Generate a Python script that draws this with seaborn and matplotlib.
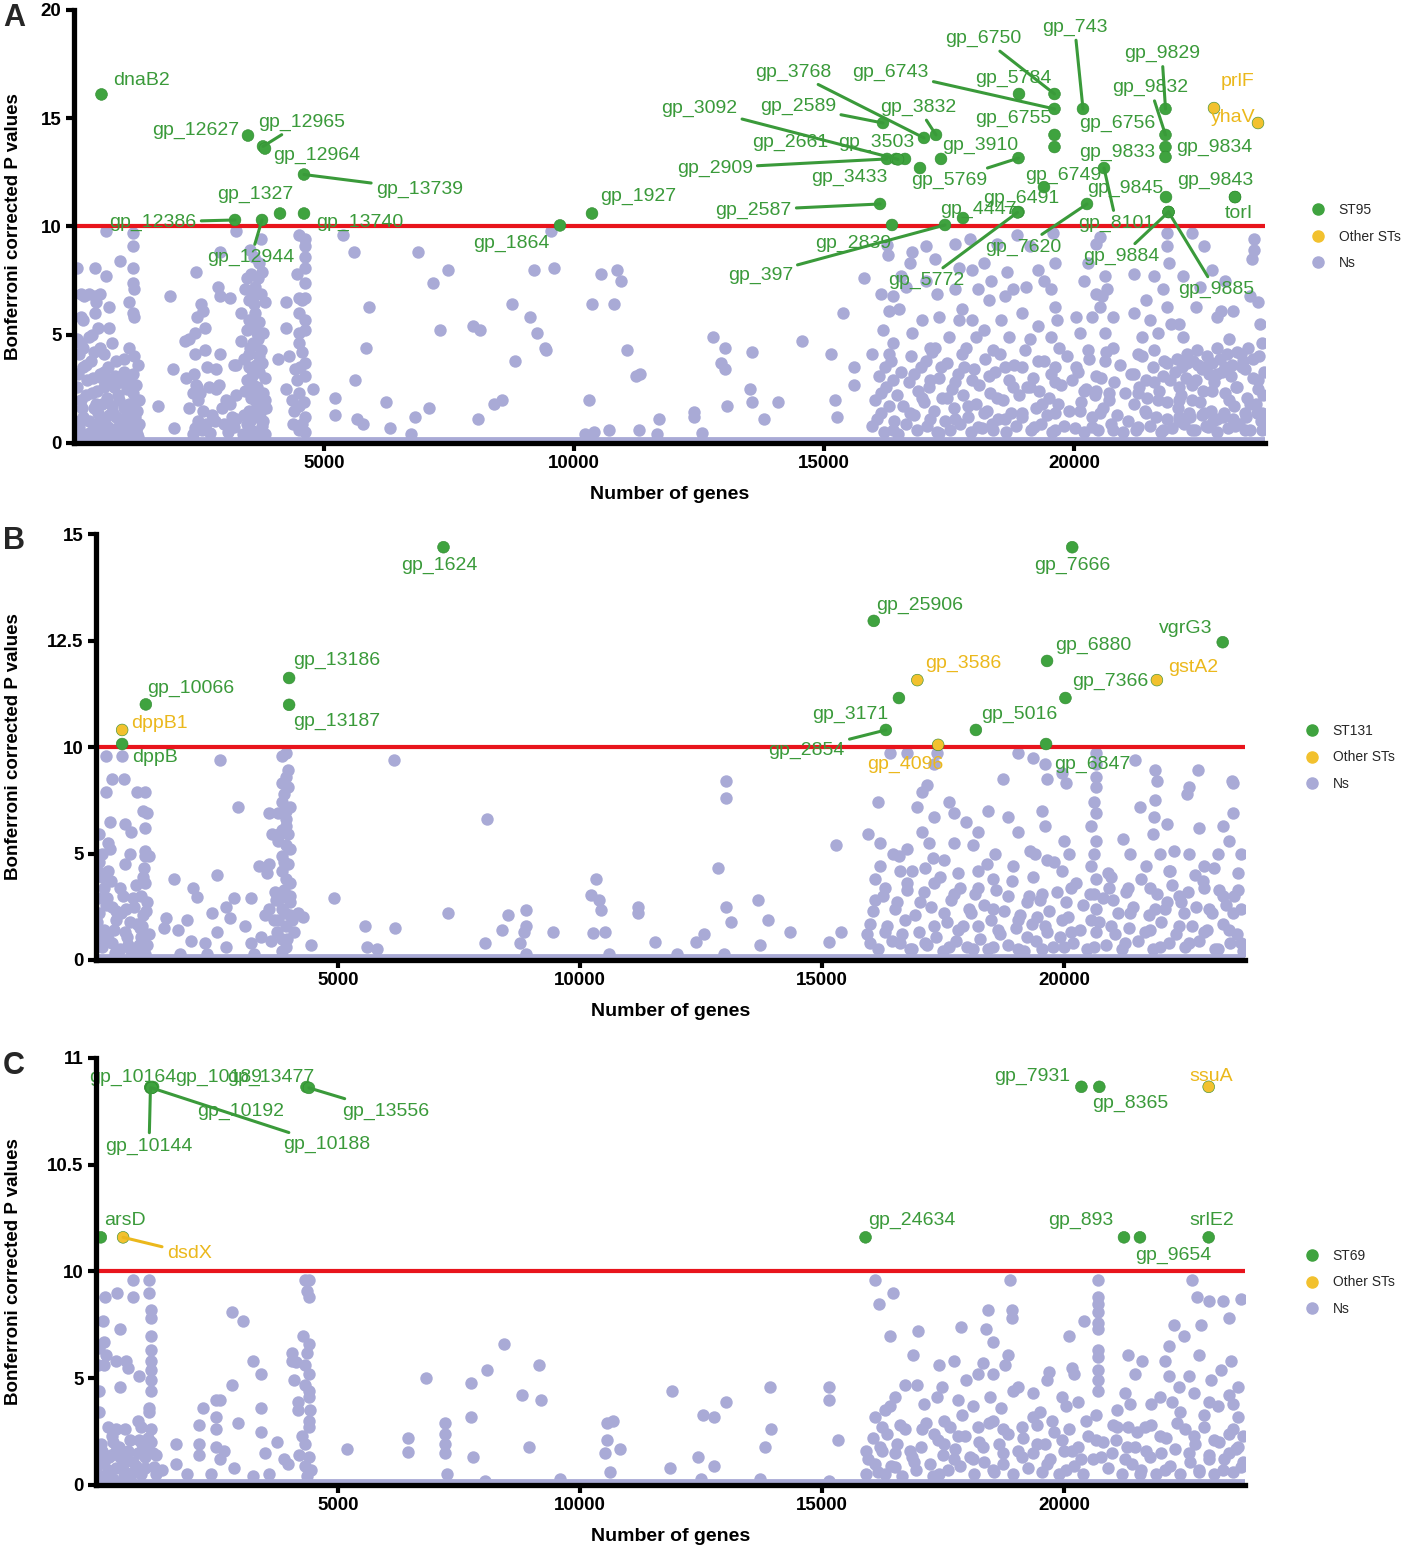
import numpy as np
import pandas as pd
import seaborn as sns
import matplotlib.pyplot as plt
from matplotlib.lines import Line2D
from matplotlib.ticker import NullLocator

# ---------------- data ----------------
# Panel A (ST95) - highlighted genes
sig_a_names = ["dnaB2", "gp_12627", "gp_12965", "gp_12964", "gp_13739", "gp_1327", "gp_13740",
               "gp_12386", "gp_12944", "gp_1864", "gp_1927", "gp_743", "gp_6750", "gp_5784",
               "gp_6743", "gp_6755", "gp_6756", "gp_9829", "gp_9832", "gp_9834", "gp_9833",
               "gp_8101", "gp_6749", "gp_9843", "torI", "gp_9845", "gp_9884", "gp_9885",
               "gp_7620", "gp_6491", "gp_5772", "gp_4447", "gp_397", "gp_2839", "gp_2587",
               "gp_5769", "gp_3910", "gp_3433", "gp_2909", "gp_2661", "gp_3503", "gp_3092",
               "gp_2589", "gp_3768", "gp_3832", "prlF", "yhaV"]
sig_a_x = [550, 3480, 3780, 3820, 4600, 4120, 4600, 3220, 3760, 9720, 10360, 20180, 19610, 18900,
           19610, 19610, 19610, 21830, 21830, 21830, 21830, 20600, 19400, 23220, 23220, 21840,
           21890, 21890, 20260, 18890, 18870, 17780, 17420, 16360, 16120, 18890, 17340, 16920,
           16260, 16440, 16620, 16480, 16180, 17000, 17240, 22800, 23680]
sig_a_y = [16.1, 14.2, 13.7, 13.6, 12.4, 10.6, 10.6, 10.3, 10.3, 10.05, 10.6, 15.43, 16.12, 16.12,
           15.43, 14.23, 13.67, 15.43, 14.23, 13.67, 13.21, 12.7, 11.82, 11.36, 11.36, 11.36,
           10.67, 10.67, 11.04, 10.67, 10.65, 10.39, 10.07, 10.07, 11.04, 13.16, 13.12, 12.7,
           13.12, 13.12, 13.12, 13.1, 14.78, 14.09, 14.23, 15.47, 14.78]
sig_a_group = ["ST95"] * 45 + ["Other STs"] * 2

# Panel B (ST131)
sig_b_names = ["gp_1624", "gp_13186", "gp_13187", "gp_10066", "dppB1", "dppB", "gp_7666",
               "gp_25906", "vgrG3", "gp_6880", "gp_3586", "gstA2", "gp_7366", "gp_3171",
               "gp_2854", "gp_5016", "gp_4096", "gp_6847"]
sig_b_x = [7180, 3990, 3990, 1030, 540, 540, 20170, 16070, 23280, 19650, 16970, 21920, 20030,
           16590, 16320, 18180, 17400, 19630]
sig_b_y = [14.69, 11.62, 10.99, 11.0, 10.4, 10.07, 14.69, 12.96, 12.46, 12.02, 11.57, 11.57,
           11.15, 11.15, 10.4, 10.4, 10.05, 10.07]
sig_b_group = ["ST131", "ST131", "ST131", "ST131", "Other STs", "ST131", "ST131", "ST131",
               "ST131", "ST131", "Other STs", "Other STs", "ST131", "ST131", "ST131", "ST131",
               "Other STs", "ST131"]

# Panel C (ST69)
sig_c_names = ["gp_10164", "gp_10189", "gp_10144", "gp_10192", "gp_10188", "gp_13477", "gp_13556",
               "arsD", "dsdX", "gp_7931", "gp_8365", "ssuA", "gp_24634", "gp_893", "gp_9654", "srlE2"]
sig_c_x = [1125, 1180, 1125, 1150, 1150, 4350, 4400, 100, 560, 20360, 20730, 22990, 15900, 21240,
           21570, 22990]
sig_c_y = [10.864, 10.864, 10.86, 10.86, 10.86, 10.864, 10.86, 10.16, 10.16, 10.865, 10.865, 10.865,
           10.16, 10.16, 10.16, 10.16]
sig_c_group = ["ST69"] * 8 + ["Other STs", "ST69", "ST69", "Other STs", "ST69", "ST69", "ST69", "ST69"]

# non-significant genes (gene position, corrected score)
ns_a = [
    (54, 8.1), (136, 6.9), (200, 6.8), (300, 6.9), (420, 6.8), (427, 8.1), (634, 9.8), (634, 7.7),
    (690, 6.3), (510, 6.9), (427, 6.0), (136, 5.8), (924, 8.4), (1170, 9.7), (1170, 9.1), (1170, 8.1),
    (1170, 7.4), (1190, 7.1), (1170, 6.0), (1200, 5.8), (1090, 6.5), (1090, 4.4), (1170, 3.2),
    (690, 5.3), (180, 4.4), (95, 4.1), (180, 3.5), (340, 3.8), (510, 3.2), (675, 3.5), (840, 3.8),
    (1000, 3.3), (260, 2.9), (590, 2.6), (920, 2.8), (1170, 2.3), (135, 2.0), (430, 1.8), (760, 1.7),
    (1090, 1.8), (1300, 2.0), (180, 1.2), (510, 1.05), (840, 1.2), (1170, 1.05), (95, 0.75),
    (430, 0.7), (675, 0.75), (1000, 0.6), (1250, 0.75), (300, 4.9), (510, 4.4), (470, 5.3),
    (590, 4.1), (1000, 3.9), (760, 4.6), (50, 4.8), (180, 5.7), (430, 6.5), (60, 2.6), (350, 2.3),
    (560, 3.0), (800, 2.6), (1100, 1.3), (250, 0.4), (600, 0.4), (900, 0.35), (1250, 0.4),
    (150, 1.6), (480, 1.4), (700, 1.3), (1000, 1.6), (1250, 1.5), (380, 3.0), (720, 2.9), (900, 2.0),
    (1300, 0.9), (1200, 4.0), (1280, 3.6), (1190, 1.9),
    (1670, 1.7), (1920, 6.8), (2000, 0.7), (1985, 3.4), (2210, 4.7), (2290, 4.8), (2420, 5.1),
    (2440, 7.9), (2540, 6.4), (2580, 6.1), (2460, 5.8), (2420, 4.1), (2620, 4.3), (2620, 5.3),
    (2400, 3.2), (2440, 2.7), (2460, 2.6), (2480, 2.0), (2580, 1.5), (2480, 1.0), (2420, 0.7),
    (2560, 0.6), (2910, 8.8), (2870, 7.2), (2910, 6.8), (3120, 6.7), (2910, 4.1), (2830, 3.4),
    (2830, 2.5), (3040, 2.0), (3120, 1.8), (3245, 2.2), (3245, 3.6), (3245, 1.1), (3245, 9.8),
    (2370, 2.3), (2660, 3.5), (3000, 0.9), (2710, 0.45), (2750, 1.3), (2950, 1.6),
    (3330, 6.0), (3740, 9.4), (3700, 8.3), (3535, 7.8), (3620, 7.2), (3825, 6.5), (3490, 5.7),
    (3660, 5.1), (3740, 4.3), (3490, 3.5), (3575, 2.7), (3825, 2.0), (3660, 1.2), (3535, 0.6),
    (4075, 3.9), (3330, 4.7), (3410, 7.1), (3490, 6.6), (3620, 6.0), (3740, 6.9), (3450, 5.2),
    (3575, 4.6), (3700, 4.0), (3490, 4.1), (3780, 5.1), (3825, 3.0), (3620, 2.3), (3450, 2.9),
    (3660, 1.8), (3490, 1.5), (3780, 1.0), (3450, 0.9), (3825, 0.4), (3200, 3.6), (3200, 0.75),
    (3600, 8.6), (3680, 7.6), (3560, 5.4), (3700, 3.3), (3620, 2.0), (3520, 1.0), (3760, 0.8),
    (3560, 3.1), (3680, 4.8), (3600, 6.4),
    (4490, 9.6), (4610, 9.4), (4610, 9.1), (4610, 8.6), (4610, 8.1), (4450, 7.8), (4610, 7.4),
    (4490, 6.7), (4240, 6.5), (4610, 6.7), (4490, 6.0), (4610, 5.7), (4240, 5.3), (4490, 5.1),
    (4610, 5.2), (4490, 4.6), (4610, 3.7), (4410, 3.4), (4610, 3.1), (4240, 2.5), (4490, 2.3),
    (4780, 2.5), (4490, 1.7), (4610, 1.2), (4490, 0.6), (4560, 6.6), (4560, 4.2), (4450, 2.9),
    (4600, 1.9), (4380, 0.9), (4620, 0.5),
    (5380, 9.6), (5600, 8.8), (5900, 6.3), (5830, 4.4), (5610, 2.9), (5220, 2.1), (5220, 1.3),
    (5650, 1.1), (5770, 0.9), (6230, 1.9), (6310, 0.7), (6730, 0.4), (6810, 1.2), (7100, 1.6),
    (6880, 8.8), (7180, 7.4), (7470, 8.0), (7320, 5.2), (7970, 5.4), (8120, 5.2), (8070, 1.1),
    (8390, 1.8), (8550, 2.0), (8760, 6.4), (8820, 3.8), (9110, 5.8), (9250, 5.1), (9420, 4.4),
    (9440, 4.3), (9200, 8.0), (9600, 8.1), (9530, 9.8), (10290, 2.0), (10350, 6.4), (10540, 7.8),
    (10790, 6.4), (10860, 8.0), (10940, 7.5), (11050, 4.3), (11240, 3.1), (10210, 0.4),
    (10390, 0.5), (10690, 0.6), (11290, 0.6),
    (11320, 3.2), (11690, 1.1), (11650, 0.4), (12400, 1.45), (12400, 1.2), (12560, 0.45),
    (12770, 4.9), (13020, 4.4), (12940, 3.7), (13020, 3.4), (13560, 4.2), (13060, 1.7),
    (13520, 2.5), (13560, 1.9), (13790, 1.1), (14080, 1.9), (14550, 4.7), (15130, 4.1),
    (15370, 6.0), (15220, 2.0), (15260, 1.2), (15800, 7.6), (15590, 3.5), (15590, 2.7), (15960, 4.1),
    (16280, 8.7), (16250, 9.15), (16130, 6.9), (16380, 6.8), (16300, 6.1), (16170, 5.2),
    (16380, 4.6), (16300, 4.1), (16210, 3.5), (16380, 2.9), (16130, 2.3), (16300, 1.7),
    (16050, 1.1), (16380, 0.6), (16500, 6.2), (16540, 7.7), (16750, 8.8), (16710, 8.3),
    (16630, 7.2),
    (16750, 5.1), (16960, 5.7), (17040, 3.8), (16790, 3.2), (17120, 2.9), (16960, 2.1),
    (16710, 1.4), (17120, 1.1), (17290, 0.45), (17040, 9.1), (17040, 7.5), (17210, 8.5),
    (17250, 6.9), (17290, 5.8), (17120, 4.4), (17330, 3.5), (17210, 4.4),
    (17620, 9.2), (17910, 9.4), (17700, 8.1), (17950, 8.0), (17620, 7.1), (18080, 7.1),
    (17750, 6.2), (17700, 5.7), (17950, 5.7), (17500, 4.9), (17750, 4.1), (18030, 4.9),
    (17790, 3.5), (17620, 2.8), (17950, 2.9), (17450, 2.1), (17870, 1.7), (17620, 1.1), (18080, 0.75),
    (18200, 8.3), (18330, 7.5), (18450, 9.2), (18620, 6.8), (18290, 6.6), (18660, 7.9), (18780, 7.1),
    (18530, 5.7), (18200, 5.2), (18700, 4.9), (18370, 4.3), (18620, 3.5), (18290, 3.1),
    (18780, 2.6), (18450, 2.1), (18200, 1.4), (18620, 1.1), (18370, 0.6),
    (18860, 9.6), (19110, 9.1), (19280, 8.0), (19570, 9.7), (19610, 8.3), (19030, 7.2),
    (19400, 7.5), (19530, 7.1), (19610, 6.3), (18950, 6.0), (19280, 5.4), (19650, 5.7),
    (19110, 4.8), (19530, 4.9), (19690, 4.4), (19280, 3.8), (18950, 3.5), (19530, 3.2),
    (19610, 2.8), (19110, 2.6), (19360, 1.8), (18950, 1.4), (19610, 1.4), (19200, 0.75), (19610, 0.6),
    (20030, 5.8), (20190, 7.5), (20270, 8.3), (20440, 9.2), (20520, 9.5), (20610, 7.7),
    (20440, 6.9), (20650, 7.1), (20770, 5.8), (20360, 5.8), (20110, 5.1), (20610, 5.1),
    (20770, 4.4), (20270, 4.3), (20030, 3.5), (20610, 3.8), (20440, 3.1), (20190, 2.4),
    (20690, 2.3), (20110, 1.5), (20520, 1.4), (20360, 0.75), (20770, 0.6), (20440, 2.4),
    (20560, 6.8), (20520, 6.3),
    (21190, 7.8), (21440, 6.6), (21600, 7.7), (21520, 5.7), (21850, 9.7), (21850, 9.1),
    (21890, 8.3), (21770, 7.1), (21850, 6.3), (21190, 6.0), (21350, 4.9), (21680, 5.1),
    (21930, 5.5), (21270, 4.1), (21600, 4.3), (21850, 3.7), (21190, 3.2), (21440, 2.9),
    (21770, 3.1), (21270, 2.3), (21680, 2.0), (21440, 1.4), (21850, 1.1), (21270, 0.75),
    (21770, 0.6), (21600, 2.8),
    (22180, 7.7), (22350, 9.7), (22510, 7.2), (22600, 9.1), (22760, 8.0), (22930, 6.1),
    (22430, 6.3), (22100, 5.5), (22180, 4.9), (22260, 3.7), (22600, 3.5), (22850, 3.2),
    (22430, 2.9), (22100, 2.6), (22760, 2.4), (22350, 2.0), (22600, 1.4), (22100, 1.2),
    (22850, 1.1), (22350, 0.6), (22680, 0.75), (22100, 2.0),
    (23180, 6.1), (23510, 6.8), (23590, 9.4), (23590, 8.9), (23550, 8.5), (23670, 6.5),
    (23710, 5.5), (23750, 4.6), (23090, 4.8), (23340, 4.1), (23010, 3.5), (23420, 3.4),
    (23260, 2.6), (23670, 2.9), (23090, 2.0), (23510, 1.8), (23750, 1.4), (23180, 1.1),
    (23420, 0.6), (23750, 0.6), (23010, 7.5), (22850, 5.8),
]
# extra genes in the crowded low-score bands of panel A
ns_a_low = [
    (40, 0.5), (110, 1.0), (170, 0.3), (230, 2.2), (290, 1.0), (330, 0.5), (390, 1.6), (450, 2.4),
    (520, 0.4), (560, 1.8), (620, 0.9), (660, 2.1), (730, 0.5), (780, 1.4), (850, 0.7), (880, 2.2),
    (950, 1.1), (1030, 0.4), (1060, 2.5), (1120, 0.8), (1210, 1.2), (1280, 0.3), (70, 3.2),
    (240, 3.6), (400, 4.2), (600, 3.3), (820, 3.1), (1050, 2.9), (1230, 2.7), (130, 4.6), (360, 5.0),
    (2300, 1.6), (2380, 0.4), (2520, 2.3), (2640, 0.9), (2700, 2.6), (2820, 1.0), (2900, 2.7),
    (3080, 0.5), (3160, 1.2), (2240, 3.0),
    (3400, 3.9), (3520, 4.4), (3640, 3.6), (3760, 3.7), (3420, 2.4), (3540, 2.1), (3660, 2.6),
    (3780, 2.3), (3400, 1.3), (3600, 1.5), (3720, 1.4), (3840, 1.6), (3380, 0.4), (3500, 0.3),
    (3640, 0.5), (3700, 5.6), (3580, 6.8), (3460, 7.6), (3760, 7.9), (3520, 8.9),
    (4300, 4.0), (4520, 3.5), (4400, 1.5), (4560, 0.9), (4350, 2.0),
    (15950, 0.8), (16020, 2.0), (16090, 3.1), (16140, 1.4), (16200, 0.5), (16240, 2.6), (16330, 3.8),
    (16400, 1.0), (16450, 2.2), (16480, 0.4), (16530, 3.3), (16580, 1.7), (16640, 0.9), (16690, 2.8),
    (16740, 4.0), (16800, 1.3), (16850, 0.6), (16880, 2.4), (16930, 3.5), (16990, 1.9), (17050, 0.8),
    (17090, 2.6), (17150, 4.2), (17200, 1.5), (17260, 0.5), (17300, 3.0), (17360, 2.1), (17410, 1.0),
    (17460, 3.7), (17520, 0.6), (17560, 2.5), (17600, 1.6), (17670, 3.2), (17720, 0.9), (17780, 2.2),
    (17830, 4.4), (17880, 1.2), (17940, 0.5), (17990, 3.4), (18040, 1.8), (18100, 2.7), (18150, 0.7),
    (18210, 3.9), (18260, 1.5), (18310, 2.3), (18360, 0.9), (18420, 3.3), (18480, 1.1), (18520, 4.1),
    (18570, 2.0), (18640, 0.5), (18690, 2.9), (18730, 1.4), (18790, 3.6), (18840, 0.8), (18900, 2.2),
    (18960, 1.2), (19010, 4.3), (19060, 2.6), (19130, 0.6), (19170, 3.0), (19230, 1.6), (19290, 2.4),
    (19340, 0.9), (19400, 3.8), (19450, 1.3), (19500, 2.1), (19560, 0.5), (19620, 3.5), (19680, 1.8),
    (19730, 2.7), (19790, 0.8), (19850, 4.0), (19900, 1.5), (19960, 2.9), (20010, 0.7), (20080, 3.3),
    (20130, 1.9), (20190, 0.5), (20240, 2.5), (20300, 3.9), (20350, 1.2), (20410, 2.2), (20470, 0.6),
    (20530, 3.0), (20580, 1.6), (20640, 4.2), (20700, 2.0), (20740, 0.9), (20800, 2.8), (20860, 1.3),
    (20910, 3.6), (20970, 0.5), (21020, 2.3), (21080, 1.0), (21130, 3.2), (21190, 1.8), (21240, 0.6),
    (21300, 2.6), (21360, 4.0), (21410, 1.5), (21460, 2.1), (21520, 0.8), (21580, 3.5), (21630, 1.2),
    (21690, 2.4), (21740, 0.5), (21800, 3.8), (21860, 1.9), (21910, 2.9), (21960, 0.7), (22020, 3.3),
    (22070, 1.6), (22130, 2.2), (22190, 0.9), (22240, 3.0), (22300, 1.4), (22350, 2.7), (22410, 0.6),
    (22470, 3.6), (22520, 1.9), (22580, 2.4), (22630, 0.8), (22690, 3.2), (22740, 1.5), (22800, 2.8),
    (22860, 0.5), (22910, 3.9), (22970, 1.2), (23020, 2.3), (23080, 0.7), (23130, 3.1), (23190, 1.7),
    (23240, 2.6), (23300, 0.9), (23350, 3.5), (23410, 1.4), (23460, 2.1), (23520, 0.6), (23570, 3.0),
    (23630, 1.8), (23680, 2.5), (23740, 1.0), (23790, 3.3),
    (22050, 3.9), (22150, 3.5), (22250, 4.1), (22380, 3.8), (22450, 4.3), (22550, 3.4), (22650, 4.0),
    (22750, 3.7), (22850, 4.4), (22950, 3.3), (23050, 4.1), (23150, 3.6), (23250, 4.2), (23380, 3.8),
    (23480, 4.4), (23580, 3.9), (23700, 4.0), (23780, 2.2), (22100, 1.0), (22320, 1.2), (22560, 1.3),
    (22780, 1.0), (23000, 1.4), (23220, 0.8), (23440, 1.2), (23660, 1.4),
]

ns_b = [
    (200, 9.6), (540, 9.6), (330, 8.5), (570, 8.5), (200, 7.9), (840, 7.9), (1010, 7.9), (970, 7.0),
    (1060, 6.9), (285, 6.5), (590, 6.4), (715, 6.0), (1010, 6.2), (70, 5.9), (245, 5.5), (285, 5.2),
    (115, 5.0), (1010, 5.1), (1010, 4.9), (590, 4.5), (245, 4.2), (970, 3.9), (1010, 3.6), (160, 3.4),
    (500, 3.4), (930, 3.0), (760, 2.9), (330, 2.5), (630, 2.4), (970, 2.1), (70, 2.2), (415, 1.9),
    (840, 1.7), (160, 1.4), (590, 1.3), (930, 1.1), (330, 0.8), (670, 0.7), (1060, 0.7), (115, 0.6),
    (500, 0.5), (1010, 0.3), (1100, 4.9), (1060, 2.7), (60, 4.6), (120, 3.9), (40, 2.9), (200, 2.6),
    (420, 2.3), (700, 1.8), (900, 1.5), (60, 1.0), (250, 1.0), (800, 0.4), (400, 0.35), (1100, 1.2),
    (1610, 3.8), (1440, 1.96), (1400, 1.5), (1700, 1.4), (1870, 1.9), (1960, 0.9), (2260, 0.8),
    (1740, 0.3), (2000, 3.4), (2085, 2.98), (2390, 2.2), (2510, 4.0), (2560, 9.4), (2680, 2.5),
    (2770, 1.96), (2510, 1.3), (2680, 0.6), (2300, 0.3), (2850, 2.9), (2940, 7.2), (3070, 1.6),
    (3200, 2.9), (3200, 0.8), (3370, 4.4), (3580, 4.5), (3540, 4.1), (3410, 1.1), (3630, 5.9),
    (3580, 6.9), (3260, 0.3),
    (3930, 9.7), (3840, 9.6), (3970, 8.9), (3930, 8.6), (3840, 8.3), (3880, 7.8), (3840, 7.4),
    (3930, 7.0), (4010, 7.2), (3760, 6.9), (3930, 6.6), (3840, 6.1), (3970, 5.9), (3760, 5.6),
    (3930, 5.4), (4010, 5.2), (3840, 4.9), (3970, 4.5), (3840, 4.2), (3930, 3.8), (4010, 3.6),
    (3880, 3.3), (3710, 2.8), (4010, 2.7), (3840, 2.4), (4010, 2.1), (4180, 2.2), (3760, 1.9),
    (3930, 1.6), (4100, 1.3), (3840, 1.0), (3930, 0.6), (3580, 2.4), (3500, 2.1), (3670, 1.9),
    (4055, 1.9), (4270, 2.0),
    (4440, 0.7), (4910, 2.9), (5550, 1.6), (5600, 0.6), (5810, 0.5), (6150, 9.4), (6170, 1.5),
    (7270, 2.2), (8080, 6.6), (8040, 0.8), (8380, 1.4), (8510, 2.1), (8890, 2.35), (8890, 1.6),
    (8850, 1.3), (8760, 0.8), (8890, 0.3), (9450, 1.3), (10260, 1.25), (10520, 1.3), (10220, 3.05),
    (10330, 3.8), (10390, 2.8), (10430, 2.35), (10600, 0.3), (11200, 2.5), (11200, 2.2),
    (11540, 0.86), (12000, 0.3), (12400, 0.86), (12560, 1.2), (12860, 4.3), (13010, 8.4),
    (13010, 7.6), (13010, 2.5), (13110, 1.8), (12980, 0.3), (13670, 2.8), (13720, 0.7),
    (13890, 1.9), (14330, 1.3), (15140, 0.86), (15290, 5.4), (15390, 1.3),
    (16150, 7.4), (15950, 5.9), (16200, 5.5), (16460, 5.0), (16760, 5.2), (16200, 4.4),
    (16100, 3.8), (16610, 4.2), (16300, 3.4), (16760, 3.3), (16100, 2.8), (16510, 2.4),
    (16000, 1.7), (16710, 1.9), (16300, 1.3), (16000, 0.8), (16610, 0.8), (16860, 0.5),
    (16410, 9.7), (16760, 9.7), (16860, 4.2),
    (17170, 8.2), (17070, 7.9), (16960, 7.2), (17320, 6.7), (17620, 7.4), (17720, 6.9),
    (17070, 6.0), (17220, 5.5), (17720, 5.5), (17980, 6.5), (18230, 6.0), (18130, 5.4),
    (17520, 4.7), (17120, 4.3), (17820, 4.1), (18230, 4.2), (17320, 3.6), (17720, 3.1),
    (18230, 3.4), (17020, 2.7), (17520, 2.2), (18030, 2.4), (17320, 1.6), (17820, 1.4),
    (18230, 1.6), (17120, 0.8), (17620, 0.6), (18130, 0.5), (17370, 9.7), (17320, 9.2),
    (18740, 8.5), (18430, 7.0), (18840, 6.7), (19040, 6.0), (18580, 5.0), (19290, 5.1),
    (18940, 4.4), (18530, 3.8), (19350, 3.9), (19650, 4.7), (19600, 6.3), (19550, 7.0),
    (19650, 8.5), (19600, 9.2), (19040, 9.7), (19350, 9.5), (18840, 3.0), (19240, 2.7),
    (19550, 3.1), (18530, 2.4), (19040, 1.9), (19450, 2.0), (18640, 1.4), (19240, 1.1),
    (19650, 1.3), (18530, 0.6), (19040, 0.5), (19550, 0.5), (19400, 5.0),
    (20660, 9.7), (20660, 9.2), (20660, 8.6), (20660, 8.1), (20610, 7.4), (20660, 6.9),
    (20560, 6.3), (20660, 5.6), (20610, 5.0), (20560, 4.4), (20660, 3.8), (20610, 3.1),
    (20660, 2.4), (20560, 1.9), (20660, 1.3), (20610, 0.6),
    (19950, 8.8), (20050, 8.3), (20000, 5.6), (20100, 5.0), (19950, 4.2), (20150, 3.4),
    (20050, 2.7), (19950, 1.9), (20150, 1.3), (20000, 0.6), (21470, 9.4), (21220, 5.7),
    (21370, 5.0), (20970, 3.9), (21320, 3.4), (21370, 2.2), (21020, 2.8), (20970, 1.6),
    (21270, 0.8), (21570, 7.2), (21880, 8.9), (21880, 7.5),
    (21930, 8.4), (21860, 6.7), (21830, 5.9), (22130, 6.4), (21980, 5.0), (22280, 5.1),
    (22580, 5.0), (22890, 4.4), (23190, 5.0), (23400, 5.6), (23500, 6.9), (23290, 6.3),
    (22790, 6.2), (22540, 7.8), (22580, 8.1), (22770, 8.9), (23480, 8.4), (23500, 8.3),
    (23650, 5.0), (23600, 4.1), (23600, 3.3), (22180, 4.2), (21780, 3.4), (22380, 3.0),
    (22890, 3.4), (23290, 3.0), (21880, 2.4), (22480, 2.2), (22990, 2.4), (23500, 2.2),
    (21780, 1.4), (22380, 1.6), (22890, 1.3), (23400, 1.4), (21980, 0.6), (22580, 0.8),
    (23190, 0.5), (23650, 0.8), (22130, 2.7),
]
ns_b_low = [
    (30, 1.8), (150, 0.9), (220, 2.9), (380, 1.4), (450, 0.4), (520, 2.2), (650, 1.1), (720, 0.4),
    (790, 2.5), (880, 0.7), (960, 1.6), (1040, 2.3), (100, 4.1), (300, 3.7), (560, 3.0), (820, 3.5),
    (1000, 4.3), (700, 5.0),
    (3700, 3.2), (3800, 2.9), (3900, 2.2), (4000, 3.0), (3750, 1.3), (3950, 1.0), (3850, 0.4),
    (3620, 0.9), (3880, 4.6), (3790, 5.9), (3920, 6.3), (3960, 8.1),
    (15920, 1.2), (16050, 2.3), (16150, 0.5), (16260, 3.0), (16350, 1.6), (16440, 0.9), (16550, 2.7),
    (16650, 1.2), (16750, 3.6), (16820, 0.5), (16920, 2.1), (17000, 1.3), (17100, 3.2), (17180, 0.7),
    (17260, 2.5), (17350, 1.1), (17440, 3.9), (17500, 0.4), (17580, 1.8), (17670, 2.8), (17760, 0.9),
    (17850, 3.4), (17920, 1.6), (18000, 0.6), (18080, 2.2), (18170, 3.1), (18270, 1.0), (18350, 2.6),
    (18440, 0.5), (18500, 1.9), (18600, 3.3), (18680, 1.2), (18760, 2.3), (18850, 0.7), (18920, 3.7),
    (19000, 1.5), (19100, 2.1), (19180, 0.4), (19280, 3.0), (19330, 1.7), (19420, 0.9), (19500, 2.8),
    (19600, 1.6), (19700, 2.3), (19780, 0.6), (19850, 3.2), (19920, 1.1), (20080, 2.0), (20180, 0.8),
    (20250, 3.6), (20330, 1.4), (20400, 2.6), (20480, 0.5), (20540, 3.1), (20720, 1.8), (20800, 2.9),
    (20870, 0.7), (20940, 3.4), (21050, 1.2), (21120, 2.2), (21200, 0.5), (21280, 3.2), (21350, 1.5),
    (21430, 2.5), (21520, 0.9), (21600, 3.8), (21680, 1.3), (21750, 2.1), (21830, 0.5), (21920, 3.1),
    (22000, 1.8), (22080, 2.4), (22160, 0.8), (22240, 3.5), (22320, 1.2), (22420, 2.7), (22500, 0.6),
    (22560, 3.2), (22650, 1.6), (22730, 2.5), (22800, 0.9), (22880, 3.7), (22960, 1.4), (23050, 2.2),
    (23120, 0.5), (23200, 3.3), (23280, 1.7), (23350, 2.6), (23430, 0.8), (23520, 3.0), (23580, 1.2),
    (23660, 2.4), (23700, 0.4), (22200, 4.2), (22700, 4.0), (23100, 4.3), (21700, 4.4), (20900, 4.1),
    (19800, 4.6), (18400, 4.5), (17300, 4.8), (16600, 4.9),
]

ns_c = [
    (184, 8.8), (440, 9.0), (760, 9.6), (760, 8.8), (1100, 9.6), (1100, 9.0), (1140, 8.2),
    (1140, 7.8), (500, 7.3), (1140, 7.0), (160, 6.7), (200, 6.1), (70, 6.4), (415, 5.8), (630, 5.8),
    (160, 5.6), (670, 5.5), (890, 5.1), (1140, 6.3), (1140, 5.8), (1140, 5.4), (1140, 4.9),
    (1140, 4.4), (500, 4.6), (70, 4.4), (1100, 3.6), (1100, 3.4), (70, 3.4), (245, 2.7), (415, 2.6),
    (330, 2.3), (930, 2.7), (1140, 2.6), (890, 2.1), (1140, 2.0), (115, 1.6), (415, 1.6), (670, 1.6),
    (160, 1.1), (500, 1.3), (760, 1.1), (1010, 1.3), (1230, 1.4), (1360, 0.7), (245, 0.7), (590, 0.6),
    (930, 0.5), (1190, 0.85), (60, 1.2), (300, 1.4), (550, 1.0), (820, 0.9), (1050, 1.7), (350, 0.3),
    (700, 0.35), (150, 0.4),
    (1660, 1.9), (1660, 1.0), (1890, 0.5), (2130, 2.8), (2130, 1.9), (2130, 1.4), (2210, 3.6),
    (2470, 4.0), (2560, 4.0), (2470, 3.2), (2470, 2.6), (2470, 1.8), (2560, 1.2), (2380, 0.5),
    (2640, 1.6), (2810, 8.1), (3030, 7.7), (2810, 4.7), (2940, 2.9), (2860, 0.8), (3240, 5.8),
    (3410, 5.2), (3410, 3.6), (3410, 2.5), (3500, 1.5), (3750, 2.0), (3240, 0.4), (3580, 0.5),
    (3880, 1.2), (3970, 1.0),
    (4310, 9.6), (4400, 9.6), (4350, 9.1), (4400, 8.8), (4270, 7.0), (4400, 6.6), (4350, 6.2),
    (4055, 6.2), (4055, 5.8), (4310, 5.6), (4400, 5.2), (4310, 4.7), (4400, 4.4), (4180, 3.9),
    (4400, 4.1), (4180, 3.5), (4400, 3.0), (4400, 2.7), (4310, 1.9), (4400, 1.3), (4310, 0.9),
    (4440, 0.7), (4140, 5.75),
    (5190, 1.7), (6450, 2.2), (6450, 1.55), (6820, 5.0), (7220, 2.9), (7220, 2.4), (7220, 1.9),
    (7220, 1.5), (7250, 0.5), (7740, 4.8), (7740, 3.2), (7780, 1.3), (8080, 5.4), (8040, 0.2),
    (8420, 6.6), (8810, 4.2), (8940, 1.8), (9150, 5.6), (9190, 4.0), (9580, 0.3), (10560, 2.9),
    (10690, 3.0), (10560, 2.1), (10520, 1.5), (10820, 1.7), (10610, 0.6),
    (11900, 4.4), (11870, 0.8), (12440, 1.3), (12540, 3.3), (12760, 3.2), (13010, 3.9),
    (12760, 0.9), (12510, 0.3), (13920, 4.6), (13950, 2.6), (13820, 1.8), (13720, 0.3),
    (15140, 4.6), (15140, 4.0), (15340, 2.1), (15140, 0.2),
    (16100, 9.6), (16460, 9.0), (16180, 8.5), (16410, 7.0), (16980, 7.2), (16890, 6.1),
    (16710, 4.7), (16960, 4.7), (16510, 4.1), (16410, 3.7), (16100, 3.2), (16250, 2.7),
    (16610, 2.8), (15900, 1.6), (16200, 1.8), (16510, 1.5), (16810, 1.6), (16100, 1.0),
    (16510, 0.85), (16910, 1.1), (15900, 0.5), (16300, 0.5), (17060, 2.6), (17320, 2.4),
    (17420, 5.6), (17720, 5.8), (17470, 4.6), (17370, 4.1), (17820, 4.0), (17980, 4.9),
    (17520, 3.0), (17820, 2.3), (17520, 1.9), (17720, 1.2), (17420, 0.5), (17880, 7.4),
    (18380, 7.3), (18430, 8.2), (18530, 6.7), (18330, 5.7), (18230, 5.2), (18530, 5.2),
    (18480, 4.1), (18130, 3.7), (18530, 3.0), (18230, 2.7), (18740, 2.6), (18330, 1.8),
    (18740, 1.5), (18130, 1.2), (18530, 0.7), (18840, 6.1), (18890, 9.6), (18920, 8.2),
    (18920, 7.8), (18790, 5.6), (18940, 4.4),
    (19040, 4.6), (19350, 4.3), (19700, 5.3), (19650, 4.9), (19950, 4.1), (20050, 3.7),
    (20160, 5.5), (20210, 5.2), (20100, 7.0), (20410, 7.7), (19350, 3.2), (19140, 2.7),
    (19750, 3.0), (19950, 2.1), (20160, 1.6), (19450, 1.9), (19140, 1.3), (19650, 1.0),
    (20050, 0.7), (20460, 3.0), (20360, 1.2),
    (20710, 9.6), (20710, 8.8), (20710, 8.5), (20710, 8.1), (20710, 7.6), (20710, 7.3),
    (20710, 6.3), (20710, 6.0), (20710, 5.4), (20710, 4.9), (20710, 4.4), (20660, 3.3),
    (20660, 2.1), (20760, 1.3),
    (21320, 6.1), (21620, 5.8), (21470, 5.2), (21270, 4.3), (21370, 3.8), (21020, 2.8),
    (21320, 2.7), (21670, 2.7), (21070, 2.1), (21470, 1.8), (21270, 1.2), (21780, 1.3),
    (21980, 2.3), (22080, 0.7), (21570, 0.5), (21980, 4.1), (22230, 3.9), (22180, 6.5),
    (22080, 5.8), (22280, 7.5), (22180, 5.1), (22380, 4.6), (22330, 2.9),
    (22640, 9.6), (22740, 8.8), (22990, 8.6), (23290, 8.6), (23650, 8.7), (22840, 7.5),
    (23400, 7.8), (22480, 7.0), (22790, 6.1), (23450, 5.8), (23240, 5.4), (22580, 5.1),
    (23040, 4.9), (23600, 4.6), (22690, 4.3), (23500, 3.8), (23190, 3.7), (22890, 3.3),
    (23600, 3.2), (22690, 2.3), (23090, 2.1), (23500, 2.6), (22580, 1.5), (22990, 1.2),
    (23400, 1.5), (22790, 0.7), (23290, 0.7), (23650, 0.85), (23600, 1.8),
]
ns_c_low = [
    (30, 0.9), (100, 1.9), (200, 0.4), (270, 1.3), (350, 2.0), (420, 0.8), (480, 1.8), (570, 0.4),
    (640, 1.2), (710, 2.1), (790, 0.6), (860, 1.5), (950, 1.9), (1020, 0.8), (1080, 2.2), (1180, 1.5),
    (1250, 0.5), (600, 2.6), (860, 3.0), (40, 5.6), (150, 7.7),
    (4200, 1.4), (4350, 0.4), (4250, 2.3), (4420, 3.5), (4100, 4.9),
    (15950, 1.2), (16050, 2.2), (16150, 0.6), (16230, 1.6), (16350, 2.4), (16420, 0.9), (16560, 1.9),
    (16650, 0.4), (16720, 2.6), (16850, 1.3), (16950, 0.7), (17050, 1.8), (17150, 2.9), (17230, 1.0),
    (17300, 0.4), (17400, 2.1), (17500, 1.4), (17600, 0.7), (17650, 2.7), (17750, 1.7), (17850, 0.9),
    (17950, 2.3), (18050, 1.3), (18150, 0.5), (18250, 2.0), (18350, 1.1), (18450, 2.9), (18560, 0.6),
    (18650, 1.9), (18750, 1.0), (18850, 2.4), (18950, 0.5), (19050, 1.6), (19150, 2.2), (19250, 0.8),
    (19350, 1.5), (19450, 2.8), (19550, 0.6), (19600, 1.9), (19720, 1.2), (19800, 2.5), (19900, 0.5),
    (20000, 1.6), (20100, 2.6), (20200, 0.9), (20300, 1.8), (20400, 0.5), (20500, 2.3), (20600, 1.2),
    (20800, 2.0), (20900, 0.8), (21000, 1.5), (21100, 2.7), (21200, 0.5), (21300, 1.8), (21400, 1.0),
    (21500, 2.5), (21600, 0.7), (21700, 1.6), (21800, 2.8), (21900, 0.5), (22000, 1.5), (22100, 2.2),
    (22200, 0.9), (22300, 1.7), (22400, 0.5), (22500, 2.6), (22600, 1.1), (22700, 1.9), (22800, 0.6),
    (22900, 2.7), (23000, 1.4), (23100, 0.5), (23200, 2.0), (23300, 1.2), (23400, 2.4), (23500, 0.6),
    (23550, 1.7), (23700, 2.3), (23700, 1.1), (16300, 3.5), (17100, 3.8), (17900, 3.3), (18700, 3.6),
    (19500, 3.4), (20300, 3.9), (21100, 3.5), (21800, 3.8), (22400, 3.4), (23000, 3.9), (23400, 4.2),
]

# genes with a corrected score of ~0 (start, end of gene index run)
zero_run_a = (0, 23820)
zero_run_b = (0, 23740)
zero_run_c = (0, 23740)

# ---------------- layout (label offsets in points, leader line flag) ----------------
off_a = [(29, 10), (-38, 4), (28, 17.5), (37, -5), (83, -10.5), (-18, 14), (40, -6.5), (-59, -1.5),
         (-8, -27), (-35, -13), (33, 12), (-6, 59), (-51, 40), (-4, 11.5), (-118, 26.6), (-30, 12),
         (45, 17), (-2.6, 40), (-11, 34), (35, 0), (-35, 3), (9, -40), (14, 8.6), (-14, 12), (3, -11.5),
         (-29.5, 6.5), (-34, -32), (34, -56), (-46, -31), (2, 10), (-66, -49), (11, 6), (-133, -36),
         (-28, -13), (-91, -4.3), (-50, -16), (28, 10), (-51, -6.5), (-124, -6.5), (-76, 12),
         (-21, 12), (-143, 37), (-61, 12), (-94, 47.5), (-13, 20), (17, 19), (-18, 4)]
line_a = [0, 0, 1, 0, 1, 0, 0, 1, 1, 0, 0, 1, 1, 0, 1, 0, 0, 1, 1, 0, 0, 1, 0, 0, 0, 0, 1, 1, 1, 0,
          1, 0, 1, 0, 1, 1, 0, 0, 1, 0, 0, 1, 1, 1, 1, 0, 0]
off_b = [(-3, -13), (34, 13), (34, -12), (32, 11.5), (27, 5), (24, -10), (0, -13), (33, 11.5),
         (-27, 10), (33.5, 11.5), (33, 12), (26, 9.4), (32, 12), (-35, -12), (-57, -14.4), (31, 11),
         (-24, -14.4), (33, -15)]
line_b = [0] * 14 + [1, 0, 0, 0]
off_c = [(-13, 7.2), (47.5, 7.2), (-1, -41.8), (64, -16.6), (126, -41), (-26, 7.2), (55, -16.6),
         (17, 12), (47.5, -11.5), (-35.4, 7.2), (22, -12), (2, 7.2), (33.5, 12), (-31.4, 12),
         (24, -13), (2, 12)]
line_c = [0, 0, 1, 0, 1, 0, 1, 0, 1, 0, 0, 0, 0, 0, 0, 0]

GREEN = "#3fa33f"
GREEN_TXT = "#3a9a3a"
YELLOW = "#f2c12e"
YELLOW_TXT = "#ebb81c"
LAV = "#a9aad6"
RED = "#e8141c"

sns.set_style("ticks")
plt.rcParams["font.family"] = ["Liberation Sans", "DejaVu Sans"]


def split_scale(k):
    def fwd(y):
        y = np.asarray(y, dtype=float)
        return np.where(y <= 10, y, 10 + (y - 10) * k)

    def inv(t):
        t = np.asarray(t, dtype=float)
        return np.where(t <= 10, t, 10 + (t - 10) / k)
    return fwd, inv


def draw_panel(ax, ns, zero_run, names, xs, ys, groups, offs, lines, st, xmax, ymax, k, yticks,
               yticklabels, leg_xy):
    if k != 1:
        ax.set_yscale("function", functions=split_scale(k))
    ns_df = pd.DataFrame(ns, columns=["gene", "score"])
    sig_df = pd.DataFrame({"gene": xs, "score": ys, "group": groups})

    ax.hlines(0, zero_run[0], zero_run[1], color=LAV, lw=8.5, zorder=1)
    sns.scatterplot(data=ns_df, x="gene", y="score", ax=ax, color=LAV, s=80, linewidth=0,
                    zorder=2, legend=False)
    ax.axhline(10, color=RED, lw=3, zorder=3)
    sns.scatterplot(data=sig_df, x="gene", y="score", hue="group", ax=ax,
                    palette={st: GREEN, "Other STs": YELLOW}, s=72, linewidth=0.4,
                    edgecolor="#2f8a2f", zorder=4, legend=False)
    for n, x, y, g, o, ln in zip(names, xs, ys, groups, offs, lines):
        col = GREEN_TXT if g == st else YELLOW_TXT
        ax.annotate(n, (x, y), xytext=o, textcoords="offset points", ha="center", va="center",
                    fontsize=14, color=col, zorder=6,
                    arrowprops=dict(arrowstyle="-", color=col, lw=2.2, shrinkA=1, shrinkB=0)
                    if ln else None)

    ax.set_xlim(0, xmax)
    ax.set_ylim(0, ymax)
    ax.set_xticks([5000, 10000, 15000, 20000])
    ax.set_yticks(yticks)
    ax.set_yticklabels(yticklabels)
    ax.yaxis.set_minor_locator(NullLocator())
    ax.xaxis.set_minor_locator(NullLocator())
    for lab in ax.get_xticklabels() + ax.get_yticklabels():
        lab.set_fontweight("bold")
    ax.tick_params(axis="both", direction="out", length=6, width=3, labelsize=13.5, pad=3,
                   color="black", labelcolor="black")
    sns.despine(ax=ax)
    for sp in ("left", "bottom"):
        ax.spines[sp].set_linewidth(3.8)
        ax.spines[sp].set_color("black")
        ax.spines[sp].set_zorder(7)
    ax.set_xlabel("Number of genes", fontsize=14, fontweight="bold", labelpad=10, color="black")
    ax.set_ylabel("Bonferroni corrected P values", fontsize=13.5, fontweight="bold", color="black")

    handles = [Line2D([], [], marker="o", ls="", markersize=8, markerfacecolor=c, markeredgecolor=c)
               for c in (GREEN, YELLOW, LAV)]
    ax.legend(handles, [st, "Other STs", "Ns"], loc="upper left", bbox_to_anchor=leg_xy,
              frameon=False, fontsize=10, handlelength=1.0, handletextpad=1.0, labelspacing=0.9,
              borderpad=0, borderaxespad=0)


fig = plt.figure(figsize=(14.09, 15.61), dpi=100)
ax_a = fig.add_axes([0.05252, 0.71621, 0.84528, 0.27739])
ax_b = fig.add_axes([0.06813, 0.38501, 0.81547, 0.27290])
ax_c = fig.add_axes([0.06813, 0.04869, 0.81547, 0.27354])

draw_panel(ax_a, ns_a + ns_a_low, zero_run_a, sig_a_names, sig_a_x, sig_a_y, sig_a_group, off_a,
           line_a, "ST95", 23820, 20, 1, [0, 5, 10, 15, 20], ["0", "5", "10", "15", "20"],
           (1.0386, 0.554))
draw_panel(ax_b, ns_b + ns_b_low, zero_run_b, sig_b_names, sig_b_x, sig_b_y, sig_b_group, off_b,
           line_b, "ST131", 23740, 15, 2, [0, 5, 10, 12.5, 15], ["0", "5", "10", "12.5", "15"],
           (1.052, 0.554))
draw_panel(ax_c, ns_c + ns_c_low, zero_run_c, sig_c_names, sig_c_x, sig_c_y, sig_c_group, off_c,
           line_c, "ST69", 23740, 11, 10, [0, 5, 10, 10.5, 11], ["0", "5", "10", "10.5", "11"],
           (1.052, 0.553))

ax_a.yaxis.set_label_coords(-0.0437, 0.5)
ax_b.yaxis.set_label_coords(-0.0644, 0.5)
ax_c.yaxis.set_label_coords(-0.0644, 0.5)

for letter, ypx in (("A", 18), ("B", 541), ("C", 1066)):
    fig.text(0.002, 1 - ypx / 1561, letter, fontsize=22, fontweight="bold", va="center", ha="left")

fig.savefig("out.png", dpi=100)
